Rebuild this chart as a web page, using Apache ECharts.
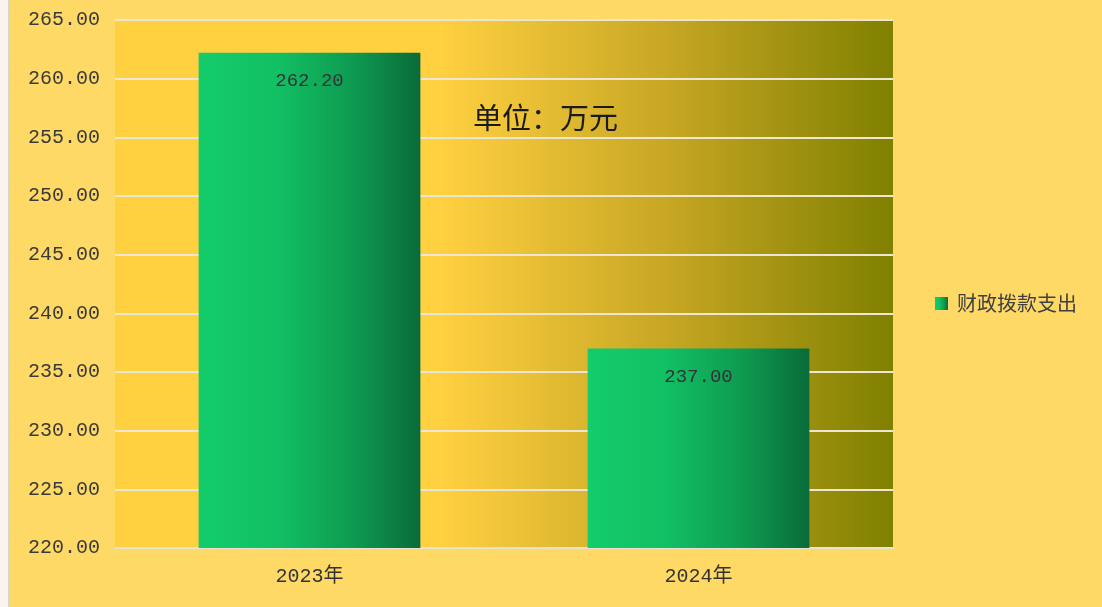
<!DOCTYPE html>
<html><head><meta charset="utf-8">
<script src="https://cdn.jsdelivr.net/npm/echarts@6/dist/echarts.min.js"></script>
<style>html,body{margin:0;padding:0;background:#FFD966;}#c{width:1102px;height:607px;}</style>
</head><body><div id="c"></div>
<script>
const categories = ['2023年', '2024年'];
const values = [262.20, 237.00];
const seriesName = '财政拨款支出';
const unitText = '单位：万元';
const yMin = 220, yMax = 265, yStep = 5;

const chart = echarts.init(document.getElementById('c'));
const mono = '"Liberation Mono", "Noto Sans CJK SC", monospace';
const cjk = '"Noto Sans CJK SC", "Noto Sans", sans-serif';
chart.setOption({
  animation: false,
  backgroundColor: '#FFD966',
  graphic: [
    {type: 'rect', left: 0, top: 0, shape: {width: 8, height: 607}, style: {fill: '#FBF4EE'}, z: 100},
    {type: 'rect', left: 8, top: 0, shape: {width: 2, height: 607}, style: {fill: '#D9D4CC'}, z: 100},
    {type: 'text', left: 473, top: 103, z: 100,
     style: {text: unitText, font: '29px ' + cjk, fill: '#1a1a1a'}}
  ],
  grid: {left: 115, right: 209, top: 20, bottom: 59, show: true, borderWidth: 0,
    backgroundColor: {type: 'linear', x: 0, y: 0, x2: 1, y2: 0, colorStops: [
      {offset: 0, color: '#FFD040'}, {offset: 0.42, color: '#FFD040'},
      {offset: 0.7, color: '#C9A825'}, {offset: 1, color: '#808000'}]}},
  legend: {orient: 'vertical', right: 20, top: 'middle', itemWidth: 13, itemHeight: 13, itemGap: 6,
    icon: 'rect', textStyle: {fontSize: 20, fontFamily: cjk, color: '#404040', padding: [0, 0, 0, 4]},
    data: [seriesName]},
  xAxis: {type: 'category', data: categories,
    axisLine: {lineStyle: {color: '#E8E2D0', width: 2}}, axisTick: {show: false},
    axisLabel: {fontSize: 20, fontFamily: mono, color: '#333', margin: 19}},
  yAxis: {type: 'value', min: yMin, max: yMax, interval: yStep,
    axisLine: {show: false}, axisTick: {show: false},
    splitLine: {lineStyle: {color: '#EDE6D2', width: 2}},
    axisLabel: {fontSize: 20, fontFamily: mono, color: '#3a3a3a', margin: 15,
      formatter: v => v.toFixed(2)}},
  series: [{
    name: seriesName, type: 'bar', data: values, barWidth: '57%',
    itemStyle: {color: {type: 'linear', x: 0, y: 0, x2: 1, y2: 0, colorStops: [
      {offset: 0, color: '#14CC6A'}, {offset: 0.35, color: '#12C064'},
      {offset: 0.7, color: '#0E9A50'}, {offset: 1, color: '#0A6B3A'}]}},
    label: {show: true, position: 'insideTop', distance: 19,
      formatter: p => p.value.toFixed(2),
      fontSize: 19, fontFamily: mono, color: '#333'}
  }]
});
</script></body></html>
